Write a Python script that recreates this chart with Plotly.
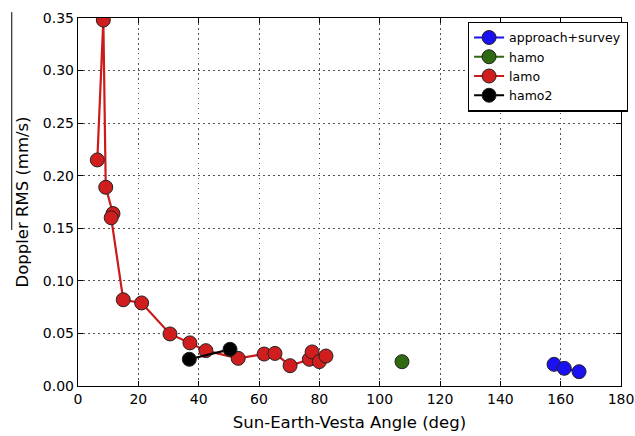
import plotly.graph_objects as go

# approach+survey
as_x = [157.8, 161.2, 166.1]
as_y = [0.0206, 0.0168, 0.0136]
# hamo
hamo_x = [107.4]
hamo_y = [0.0231]
# lamo
lamo_x = [6.4, 8.4, 9.2, 11.6, 11.0, 15.0, 21.1, 30.5, 37.1, 42.4, 53.1, 61.7, 65.3, 70.3, 76.7, 77.6, 80.0, 82.2]
lamo_y = [0.215, 0.348, 0.189, 0.164, 0.160, 0.082, 0.079, 0.0495, 0.041, 0.0336, 0.0263, 0.0304, 0.031, 0.0193, 0.0254, 0.0324, 0.0232, 0.0285]
# hamo2
hamo2_x = [36.9, 50.4]
hamo2_y = [0.0254, 0.0349]

x_ticks = [0, 20, 40, 60, 80, 100, 120, 140, 160, 180]
y_ticks = [0.0, 0.05, 0.10, 0.15, 0.20, 0.25, 0.30, 0.35]

series = [
    ("approach+survey", as_x, as_y, "#1a10f0", "#1a10f0"),
    ("hamo", hamo_x, hamo_y, "#2f6a12", "#2f6a12"),
    ("lamo", lamo_x, lamo_y, "#cc1a1a", "#d01e1e"),
    ("hamo2", hamo2_x, hamo2_y, "#000000", "#000000"),
]

fig = go.Figure()
for name, xs, ys, lc, mc in series:
    fig.add_trace(go.Scatter(
        x=xs, y=ys, name=name, mode="lines+markers",
        line=dict(color=lc, width=2.2),
        marker=dict(size=14, color=mc, line=dict(color="#222222", width=1)),
    ))

axis_common = dict(
    showline=True, linecolor="black", linewidth=1.4, mirror="ticks",
    ticks="inside", ticklen=5, tickcolor="black",
    showgrid=True, gridcolor="#555555", griddash="1.5px,3.5px", gridwidth=1,
    zeroline=False, automargin=False,
    tickfont=dict(family="DejaVu Sans", size=14, color="black"),
)

fig.update_xaxes(range=[0, 180], tickvals=x_ticks,
                 title=dict(text="Sun-Earth-Vesta Angle (deg)", font=dict(family="DejaVu Sans", size=16.5, color="black"), standoff=10),
                 **axis_common)
fig.update_yaxes(range=[0, 0.35], tickvals=y_ticks, tickformat=".2f",
                 title=dict(text="Doppler RMS (mm/s)", font=dict(family="DejaVu Sans", size=16.5, color="black"), standoff=10),
                 **axis_common)

# legend shadow
fig.add_shape(type="rect", xref="paper", yref="paper",
              x0=0.7238, x1=1.0, y0=0.755, y1=0.981,
              fillcolor="#808080", line=dict(width=0), layer="above")

fig.add_shape(type="line", xref="paper", yref="paper",
              x0=-0.122, x1=-0.122, y0=0.424, y1=1.016,
              line=dict(color="black", width=1))

fig.update_layout(
    width=635, height=436,
    margin=dict(l=78, r=14, t=18, b=50, autoexpand=False),
    plot_bgcolor="white", paper_bgcolor="white",
    font=dict(family="DejaVu Sans", color="black"),
    legend=dict(x=0.718, y=0.99, xanchor="left", yanchor="top",
                bgcolor="white", bordercolor="black", borderwidth=1.2,
                font=dict(family="DejaVu Sans", size=12.5, color="black"),
                itemwidth=30, tracegroupgap=0),
    showlegend=True,
)

fig.write_html("out.html")
